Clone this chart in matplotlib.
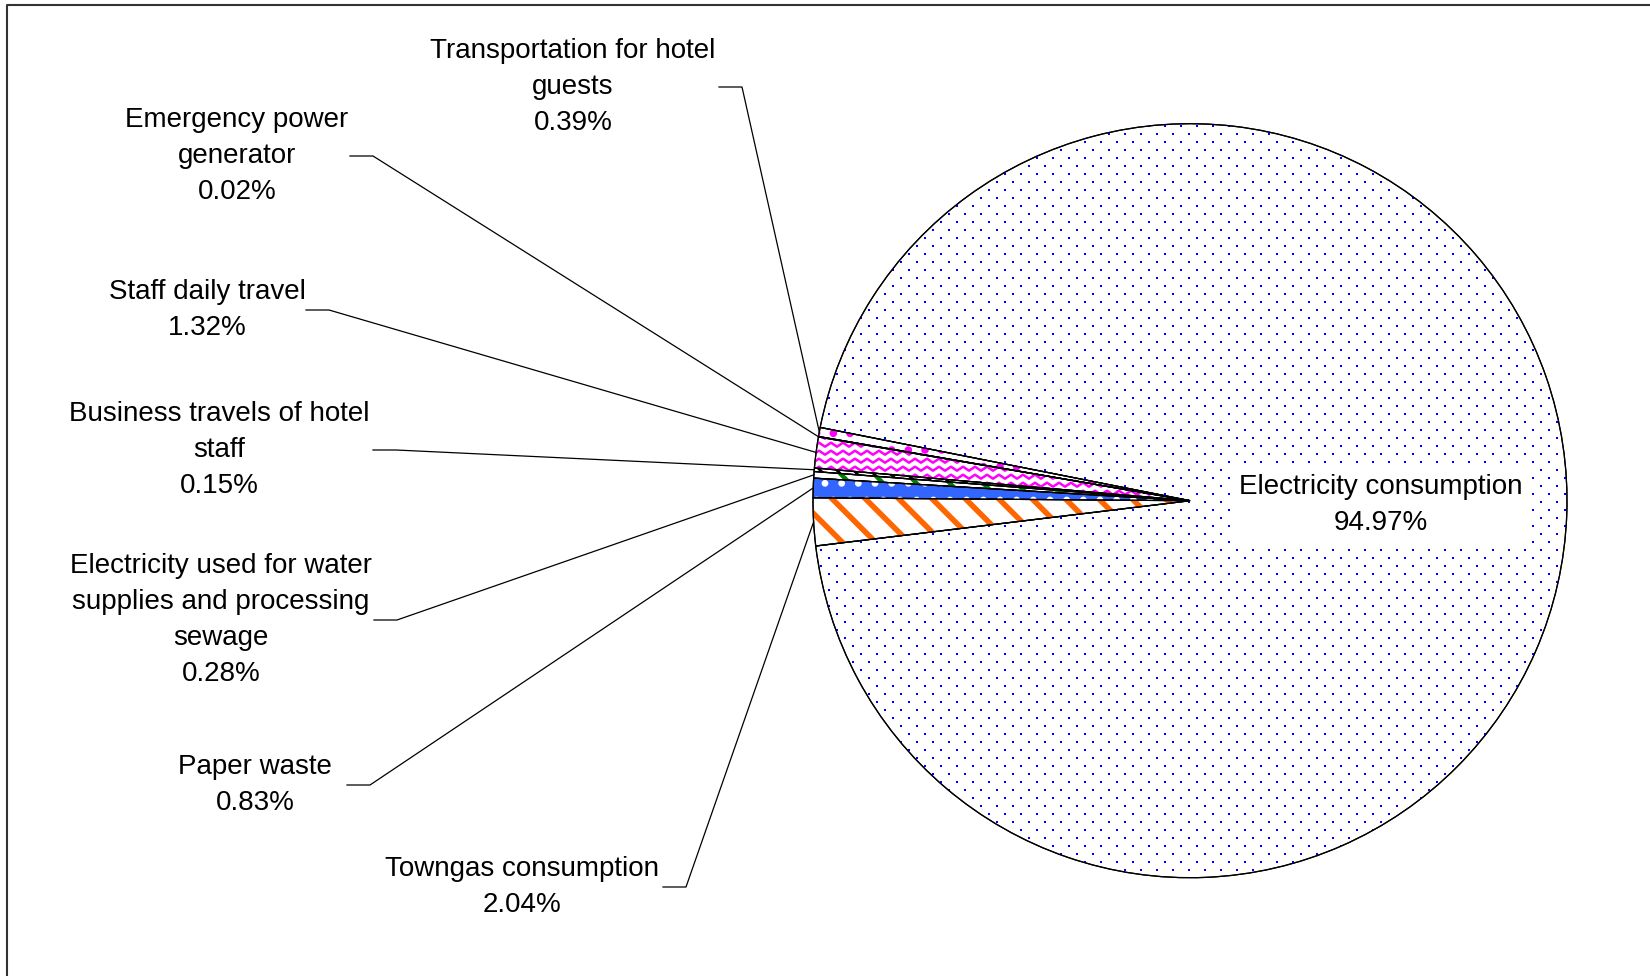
import matplotlib
matplotlib.use("Agg")
import matplotlib.pyplot as plt
import matplotlib.patches as mpatches
from matplotlib.collections import LineCollection
import numpy as np

# data, in pie order (counter-clockwise from the start angle)
categories = ["Electricity consumption", "Transportation for hotel\nguests",
              "Emergency power\ngenerator", "Staff daily travel",
              "Business travels of hotel\nstaff",
              "Electricity used for water\nsupplies and processing\nsewage",
              "Paper waste", "Towngas consumption"]
shares = [94.97, 0.39, 0.02, 1.32, 0.15, 0.28, 0.83, 2.04]

# styling per wedge: face, hatch, hatch colour, hatch linewidth
# (dots of the big wedge and zigzag of staff travel are drawn separately)
faces = ["white", "white", "white", "white", "white", "white", "#3366ff", "white"]
hatches = [None, ".", None, None, "\\\\", "\\", ".", "\\"]
hatch_cols = [None, "#ff00ff", None, None, "black", "#008000", "white", "#ff6600"]
hatch_lws = [1, 3.0, 1, 1, 2.0, 3.2, 2.4, 4.0]

# label layout in pixels (y from top): text centre, leader start x
W, H = 1650, 976
label_pos = [None, (573, 87), (237, 156), (207, 310), (219, 450), (221, 620),
             (255, 785), (522, 887)]
leader_x0 = [None, 719, 350, 306, 373, 374, 347, 663]
leader_dx = 23

plt.rcParams['font.family'] = ['Liberation Sans', 'DejaVu Sans']

fig = plt.figure(figsize=(W / 100, H / 100), dpi=100)
ax = fig.add_axes([0, 0, 1, 1])

center = (1190, H - 500.7)
radius = 377
wedges, _ = ax.pie(shares, startangle=186.9, counterclock=True, radius=radius,
                   center=center, colors=faces,
                   wedgeprops=dict(edgecolor='black', linewidth=0.9))

for w, h, hc, hlw in zip(wedges, hatches, hatch_cols, hatch_lws):
    if h is None:
        continue
    with plt.rc_context({'hatch.linewidth': hlw}):
        hw = mpatches.Wedge(w.center, w.r, w.theta1, w.theta2, facecolor='none',
                            edgecolor=hc, linewidth=0, hatch=h, zorder=w.get_zorder() + 0.1)
        ax.add_patch(hw)

# staggered blue dot texture of the electricity wedge (16 px columns, 8 px rows)
rows = np.arange(center[1] - radius, center[1] + radius + 8, 8)
gx, gy = [], []
for k, yy in enumerate(rows):
    cols = np.arange(center[0] - radius + (k % 2) * 8, center[0] + radius + 16, 16)
    gx.extend(cols)
    gy.extend([yy] * len(cols))
dots = ax.scatter(gx, gy, s=4.5, marker='s', color='#0000ff', linewidths=0, zorder=1.5)
dots.set_clip_path(wedges[0])

# magenta zigzag texture of the staff travel wedge
zx = np.arange(center[0] - radius, center[0] + 6, 6)
zag = np.where(np.arange(len(zx)) % 2 == 0, 0.0, 4.0)
segs = [np.column_stack([zx, y0 + zag])
        for y0 in np.arange(center[1] - 10, center[1] + 80, 8)]
zig = LineCollection(segs, colors='#ff00ff', linewidths=1.8, zorder=1.5)
ax.add_collection(zig)
zig.set_clip_path(wedges[3])

# redraw the outlines on top of the textures
for w in wedges:
    ax.add_patch(mpatches.Wedge(w.center, w.r, w.theta1, w.theta2, facecolor='none',
                                edgecolor='black', linewidth=0.9, zorder=2))

for i, w in enumerate(wedges):
    txt = f"{categories[i]}\n{shares[i]:.2f}%"
    if i == 0:
        ax.text(1381, H - 505, txt, ha='center', va='center', fontsize=20,
                linespacing=1.5, zorder=10,
                bbox=dict(boxstyle='square,pad=0.3', facecolor='white', edgecolor='none'))
        continue
    mid = np.deg2rad((w.theta1 + w.theta2) / 2)
    ex = center[0] + radius * np.cos(mid)
    ey = center[1] + radius * np.sin(mid)
    lx, ly = label_pos[i]
    ax.text(lx, H - ly, txt, ha='center', va='center', fontsize=20, linespacing=1.5)
    x0 = leader_x0[i]
    ax.plot([x0, x0 + leader_dx, ex], [H - ly, H - ly, ey], color='black', lw=0.9, zorder=5)

# chart area border (only top and left are inside the picture)
ax.plot([7, 7, W], [0, H - 5, H - 5], color='#333333', lw=1.5, zorder=6)

ax.set_xlim(0, W)
ax.set_ylim(0, H)
ax.set_aspect('auto')
ax.axis('off')
fig.savefig('out.png', dpi=100)
